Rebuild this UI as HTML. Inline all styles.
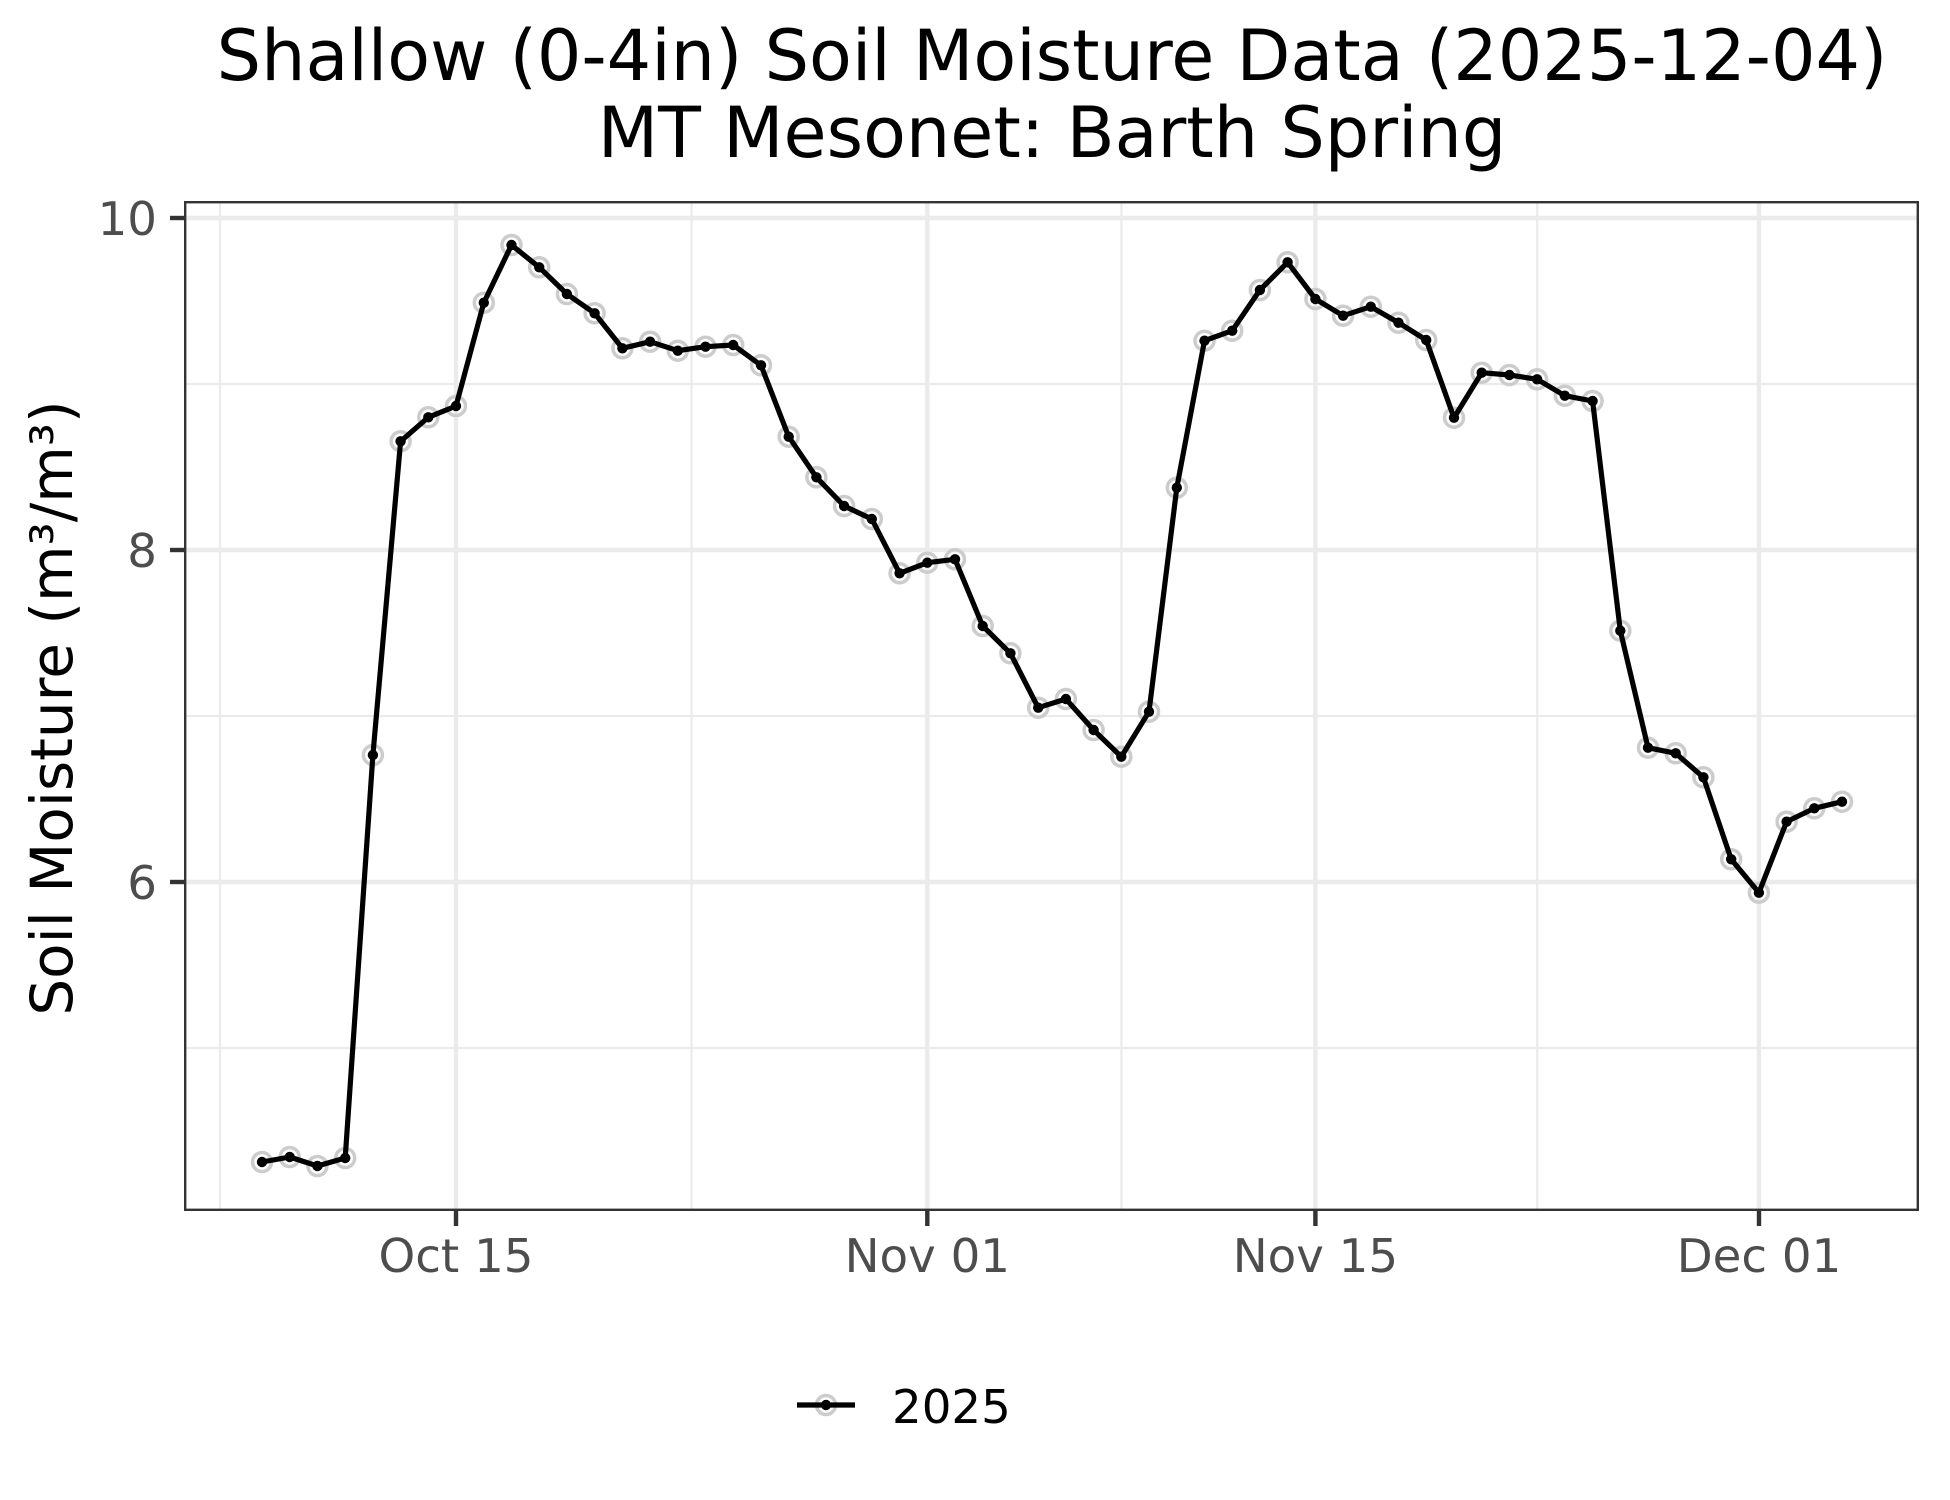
<!DOCTYPE html>
<html>
<head>
<meta charset="utf-8">
<style>
  html, body { margin: 0; padding: 0; background: #ffffff; }
  svg { display: block; }
  text { font-family: "DejaVu Sans", "Liberation Sans", sans-serif; }
</style>
</head>
<body>
<svg xmlns="http://www.w3.org/2000/svg" width="1950" height="1500" viewBox="0 0 1950 1500">
  <defs>
    <marker id="ring" markerUnits="userSpaceOnUse" markerWidth="30" markerHeight="30" refX="15" refY="15" overflow="visible">
      <circle cx="15" cy="15" r="9.5" fill="none" stroke="#CCCCCC" stroke-width="3.5"/>
    </marker>
    <marker id="dot" markerUnits="userSpaceOnUse" markerWidth="20" markerHeight="20" refX="10" refY="10" overflow="visible">
      <circle cx="10" cy="10" r="5.2" fill="#000000"/>
    </marker>
  </defs>

  <rect x="0" y="0" width="1950" height="1500" fill="#ffffff"/>

  <text x="1052" y="80" font-size="70" text-anchor="middle" fill="#000000">Shallow (0-4in) Soil Moisture Data (2025-12-04)</text>
  <text x="1052" y="157" font-size="70" text-anchor="middle" fill="#000000">MT Mesonet: Barth Spring</text>

  <g stroke="#EBEBEB" stroke-width="2.2">
    <line x1="184" y1="384" x2="1919" y2="384"/>
    <line x1="184" y1="716" x2="1919" y2="716"/>
    <line x1="184" y1="1048" x2="1919" y2="1048"/>
    <line x1="220" y1="201" x2="220" y2="1211"/>
    <line x1="691.6" y1="201" x2="691.6" y2="1211"/>
    <line x1="1121.4" y1="201" x2="1121.4" y2="1211"/>
    <line x1="1537.2" y1="201" x2="1537.2" y2="1211"/>
  </g>
  <g stroke="#EBEBEB" stroke-width="4.4">
    <line x1="184" y1="218" x2="1919" y2="218"/>
    <line x1="184" y1="550" x2="1919" y2="550"/>
    <line x1="184" y1="882" x2="1919" y2="882"/>
    <line x1="456" y1="201" x2="456" y2="1211"/>
    <line x1="927.3" y1="201" x2="927.3" y2="1211"/>
    <line x1="1315.4" y1="201" x2="1315.4" y2="1211"/>
    <line x1="1759" y1="201" x2="1759" y2="1211"/>
  </g>

  <polyline fill="none" stroke="none" marker-start="url(#ring)" marker-mid="url(#ring)" marker-end="url(#ring)"
    points="262.0,1162 289.7,1157 317.4,1166 345.2,1158 372.9,755 400.6,441.3 428.3,417.3 456.0,406 483.8,302.7 511.5,245 539.2,267.3 566.9,294 594.6,313.3 622.4,348.3 650.1,341.7 677.8,350.7 705.5,346.7 733.2,345 761.0,365.3 788.7,436.7 816.4,477.3 844.1,506 871.8,519 899.6,573.3 927.3,562.7 955.0,559.3 982.7,626 1010.4,653.3 1038.2,707.7 1065.9,699 1093.6,730 1121.3,756.7 1149.0,711.7 1176.8,487.7 1204.5,340.7 1232.2,330.7 1259.9,290 1287.6,262.3 1315.4,299 1343.1,315.7 1370.8,306.7 1398.5,322.7 1426.2,340 1454.0,417.7 1481.7,372.7 1509.4,375 1537.1,379.3 1564.8,395.7 1592.6,401 1620.3,630.7 1648.0,747.7 1675.7,753.3 1703.4,777.3 1731.2,859.3 1758.9,892.7 1786.6,821.7 1814.3,808.3 1842.0,801.7"/>

  <polyline fill="none" stroke="#000000" stroke-width="5.2" stroke-linejoin="round" marker-start="url(#dot)" marker-mid="url(#dot)" marker-end="url(#dot)"
    points="262.0,1162 289.7,1157 317.4,1166 345.2,1158 372.9,755 400.6,441.3 428.3,417.3 456.0,406 483.8,302.7 511.5,245 539.2,267.3 566.9,294 594.6,313.3 622.4,348.3 650.1,341.7 677.8,350.7 705.5,346.7 733.2,345 761.0,365.3 788.7,436.7 816.4,477.3 844.1,506 871.8,519 899.6,573.3 927.3,562.7 955.0,559.3 982.7,626 1010.4,653.3 1038.2,707.7 1065.9,699 1093.6,730 1121.3,756.7 1149.0,711.7 1176.8,487.7 1204.5,340.7 1232.2,330.7 1259.9,290 1287.6,262.3 1315.4,299 1343.1,315.7 1370.8,306.7 1398.5,322.7 1426.2,340 1454.0,417.7 1481.7,372.7 1509.4,375 1537.1,379.3 1564.8,395.7 1592.6,401 1620.3,630.7 1648.0,747.7 1675.7,753.3 1703.4,777.3 1731.2,859.3 1758.9,892.7 1786.6,821.7 1814.3,808.3 1842.0,801.7"/>

  <rect x="185.2" y="202.2" width="1732.6" height="1007.6" fill="none" stroke="#333333" stroke-width="2.4"/>

  <g stroke="#333333" stroke-width="4.4">
    <line x1="170" y1="218" x2="184" y2="218"/>
    <line x1="170" y1="550" x2="184" y2="550"/>
    <line x1="170" y1="882" x2="184" y2="882"/>
    <line x1="456" y1="1211" x2="456" y2="1226"/>
    <line x1="927.3" y1="1211" x2="927.3" y2="1226"/>
    <line x1="1315.4" y1="1211" x2="1315.4" y2="1226"/>
    <line x1="1759" y1="1211" x2="1759" y2="1226"/>
  </g>

  <g font-size="46.7" fill="#4D4D4D" text-anchor="end">
    <text x="157" y="235">10</text>
    <text x="157" y="567">8</text>
    <text x="157" y="899">6</text>
  </g>

  <g font-size="46.7" fill="#4D4D4D" text-anchor="middle">
    <text x="456" y="1272">Oct 15</text>
    <text x="927.3" y="1272">Nov 01</text>
    <text x="1315.4" y="1272">Nov 15</text>
    <text x="1759" y="1272">Dec 01</text>
  </g>

  <text transform="translate(72,708) rotate(-90)" font-size="58" text-anchor="middle" fill="#000000">Soil Moisture (m³/m³)</text>

  <circle cx="826" cy="1405" r="9.5" fill="none" stroke="#CCCCCC" stroke-width="3.5"/>
  <line x1="797" y1="1405" x2="855" y2="1405" stroke="#000000" stroke-width="5.2"/>
  <circle cx="826" cy="1405" r="5.2" fill="#000000"/>
  <text x="892" y="1423" font-size="46.7" fill="#000000">2025</text>
</svg>
</body>
</html>
